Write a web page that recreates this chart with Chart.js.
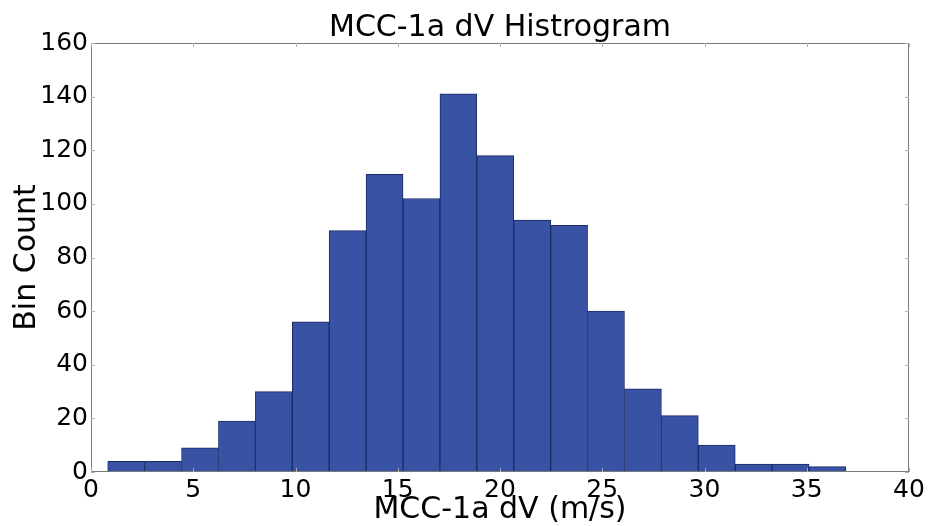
<!DOCTYPE html>
<html lang="en">
<head>
  <meta charset="UTF-8">
  <title>MCC-1a dV Histrogram</title>
  <script src="https://cdn.jsdelivr.net/npm/chart.js"></script>
  <style>
    html, body { margin: 0; padding: 0; background: #fff; }
    #wrap { width: 930px; height: 526px; }
  </style>
</head>
<body>
  <div id="wrap"><canvas id="grafica"></canvas></div>
  <script>
// bin edges (m/s) and counts
const binEdges = [0.82, 2.62, 4.43, 6.23, 8.04, 9.84, 11.65, 13.45, 15.26, 17.06, 18.87,
                  20.67, 22.48, 24.28, 26.09, 27.89, 29.70, 31.50, 33.31, 35.11, 36.92];
const binCounts = [4, 4, 9, 19, 30, 56, 90, 111, 102, 141, 118, 94, 92, 60, 31, 21, 10, 3, 3, 2];
const xTicks = [0, 5, 10, 15, 20, 25, 30, 35, 40];
const yTicks = [0, 20, 40, 60, 80, 100, 120, 140, 160];

const fuente = 'DejaVu Sans';

// one bar per bin, centred between its edges
const puntos = binCounts.map((c, i) => ({ x: (binEdges[i] + binEdges[i + 1]) / 2, y: c }));

// frame round the plot + small inside tick marks, like matplotlib
const marco = {
  id: 'marco',
  afterDatasetsDraw(chart) {
    const { ctx, chartArea: a, scales } = chart;
    const x = scales.x, y = scales.y;
    ctx.save();
    ctx.strokeStyle = '#7a7a7a';
    ctx.lineWidth = 1;
    ctx.strokeRect(Math.round(a.left) + 0.5, Math.round(a.top) + 0.5,
                   Math.round(a.right - a.left) - 1, Math.round(a.bottom - a.top) - 1);
    ctx.strokeStyle = '#b0b0b0';
    ctx.beginPath();
    x.ticks.forEach(t => {
      const px = Math.round(x.getPixelForValue(t.value)) + 0.5;
      ctx.moveTo(px, a.bottom); ctx.lineTo(px, a.bottom - 4);
      ctx.moveTo(px, a.top); ctx.lineTo(px, a.top + 4);
    });
    y.ticks.forEach(t => {
      const py = Math.round(y.getPixelForValue(t.value)) + 0.5;
      ctx.moveTo(a.left, py); ctx.lineTo(a.left + 4, py);
      ctx.moveTo(a.right, py); ctx.lineTo(a.right - 4, py);
    });
    ctx.stroke();
    ctx.restore();
  }
};

const ctx = document.getElementById('grafica').getContext('2d');
new Chart(ctx, {
  type: 'bar',
  data: {
    datasets: [{
      label: 'Bin Count',
      data: puntos,
      backgroundColor: '#3953a4',
      borderColor: '#1c2a68',
      borderWidth: 1,
      borderSkipped: false,
      barPercentage: 1,
      categoryPercentage: 1
    }]
  },
  options: {
    responsive: true,
    maintainAspectRatio: false,
    animation: false,
    layout: { padding: { top: 0, right: 21, bottom: 0, left: 0 } },
    plugins: {
      legend: { display: false },
      tooltip: { enabled: false },
      title: {
        display: true,
        fullSize: false,
        text: 'MCC-1a dV Histrogram',
        color: '#000',
        font: { family: fuente, size: 30, weight: 'normal', lineHeight: 0.9 },
        padding: { top: 15, bottom: 1 }
      }
    },
    scales: {
      x: {
        type: 'linear',
        offset: false,
        min: 0,
        max: 40,
        grid: { display: false, drawTicks: false },
        border: { display: false },
        afterBuildTicks: s => { s.ticks = xTicks.map(v => ({ value: v })); },
        afterFit: s => { s.height = 54; },
        ticks: {
          color: '#000',
          padding: 3,
          maxRotation: 0,
          font: { family: fuente, size: 25 }
        },
        title: {
          display: true,
          text: 'MCC-1a dV (m/s)',
          color: '#000',
          font: { family: fuente, size: 30, lineHeight: 1 },
          padding: { top: 0, bottom: 1 }
        }
      },
      y: {
        min: 0,
        max: 160,
        grid: { display: false, drawTicks: false },
        border: { display: false },
        afterBuildTicks: s => { s.ticks = yTicks.map(v => ({ value: v })); },
        afterFit: s => { s.width = 91; },
        ticks: {
          color: '#000',
          padding: 3,
          font: { family: fuente, size: 25 }
        },
        title: {
          display: true,
          text: 'Bin Count',
          color: '#000',
          font: { family: fuente, size: 30, lineHeight: 1 },
          padding: { top: 12, bottom: 0 }
        }
      }
    }
  },
  plugins: [marco]
});
  </script>
</body>
</html>
